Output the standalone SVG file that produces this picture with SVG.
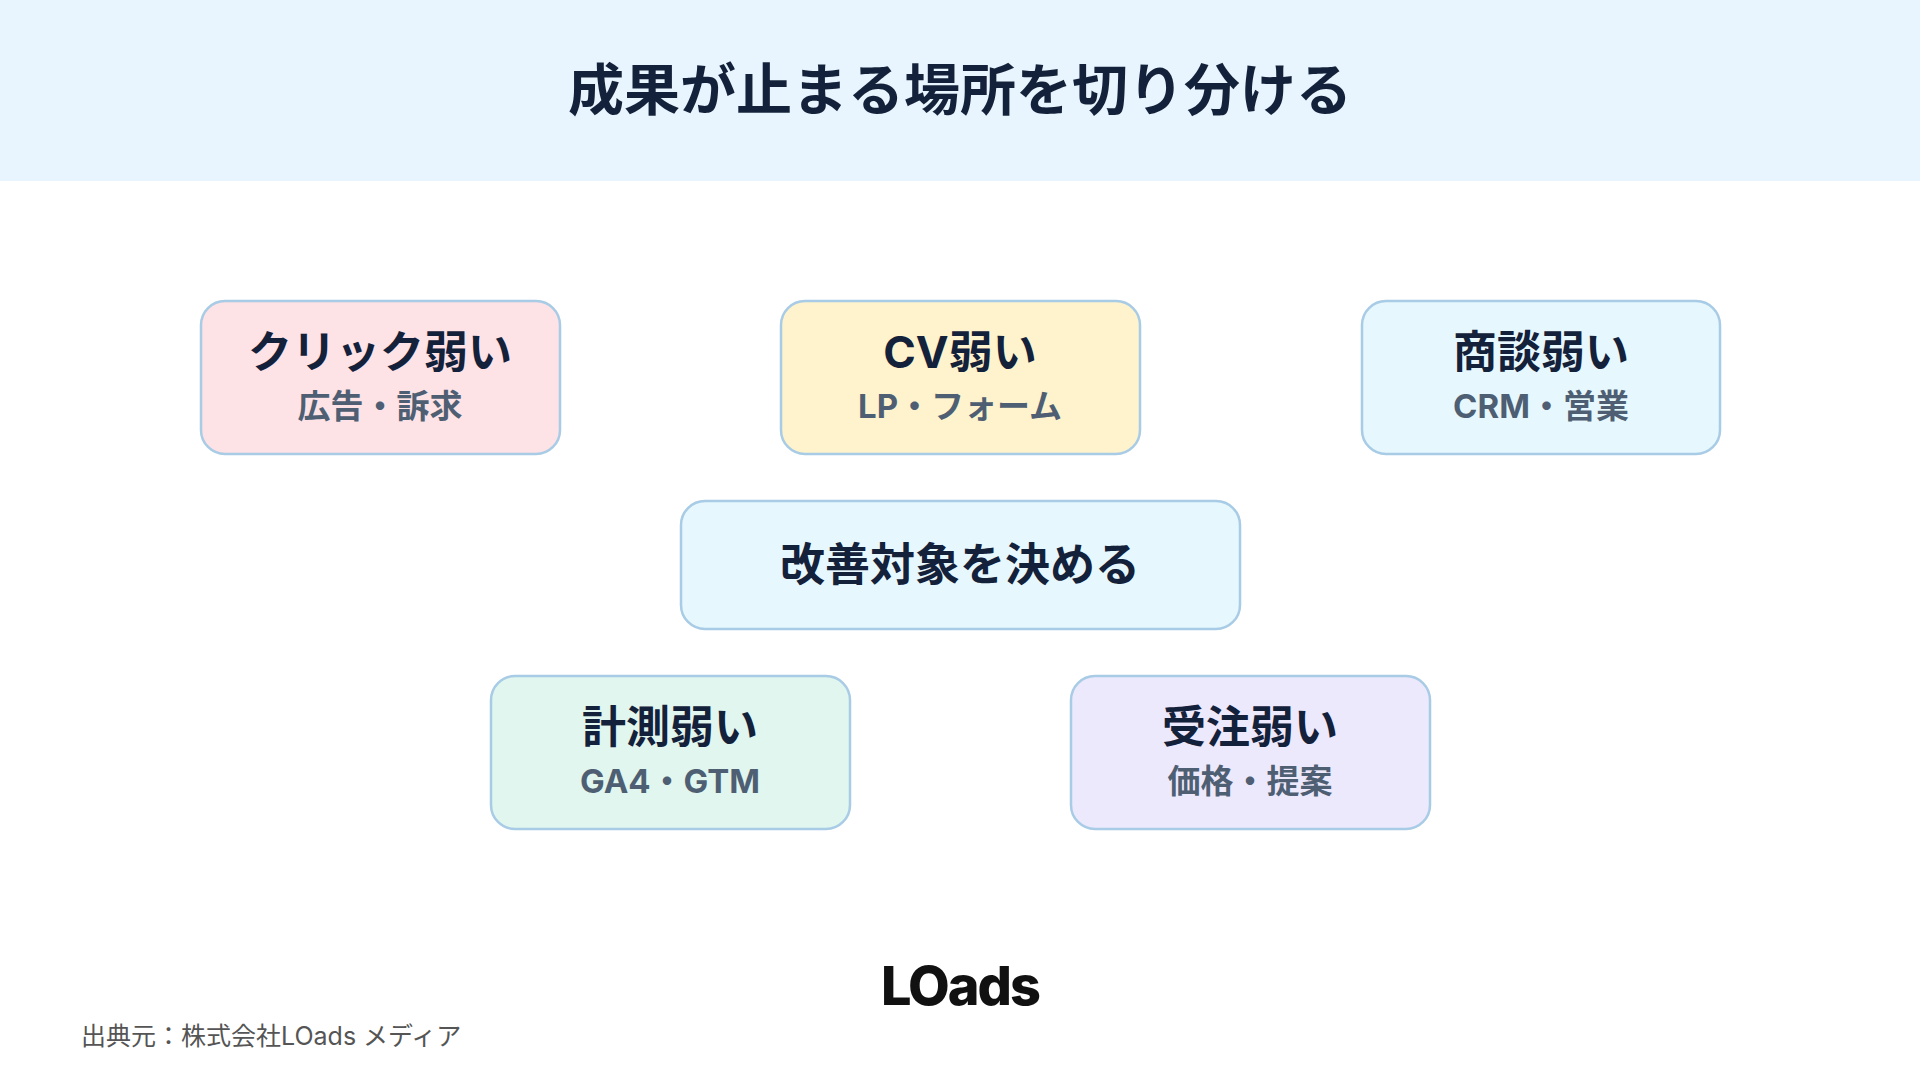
<svg xmlns="http://www.w3.org/2000/svg" width="1920" height="1080" viewBox="0 0 1920 1080">
<style>
.t{font-family:Inter,"Noto Sans CJK JP",sans-serif;font-weight:700;fill:#14213a;text-anchor:middle}
.s{font-family:Inter,"Noto Sans CJK JP",sans-serif;font-weight:700;fill:#4f5f73;text-anchor:middle;font-size:33px}
.box{stroke:#a8cbe6;stroke-width:2.5}
</style>
<rect width="1920" height="1080" fill="#ffffff"/>
<rect width="1920" height="181" fill="#e8f5fe"/>
<text class="t" x="960" y="110" font-size="56">成果が止まる場所を切り分ける</text>
<g id="connectors"></g>
<g id="n1"><rect class="box" x="201" y="301" width="359" height="153" rx="24" fill="#fde2e6"/><text class="t" x="380" y="368" font-size="44">クリック弱い</text><text class="s" x="380" y="418">広告・訴求</text></g>
<g id="n2"><rect class="box" x="781" y="301" width="359" height="153" rx="24" fill="#fef3cc"/><text class="t" x="960" y="368" font-size="44">CV弱い</text><text class="s" x="960" y="418">LP・フォーム</text></g>
<g id="n3"><rect class="box" x="1362" y="301" width="358" height="153" rx="24" fill="#e6f8fd"/><text class="t" x="1541" y="368" font-size="44">商談弱い</text><text class="s" x="1541" y="418">CRM・営業</text></g>
<g id="n4"><rect class="box" x="681" y="501" width="559" height="128" rx="24" fill="#e6f8fd"/><text class="t" x="960" y="581" font-size="45">改善対象を決める</text></g>
<g id="n5"><rect class="box" x="491" y="676" width="359" height="153" rx="24" fill="#e0f6ee"/><text class="t" x="670" y="743" font-size="44">計測弱い</text><text class="s" x="670" y="793">GA4・GTM</text></g>
<g id="n6"><rect class="box" x="1071" y="676" width="359" height="153" rx="24" fill="#ede9fd"/><text class="t" x="1250" y="743" font-size="44">受注弱い</text><text class="s" x="1250" y="793">価格・提案</text></g>
<text x="960" y="1005" font-family="Inter,'Noto Sans',sans-serif" font-weight="800" font-size="54" fill="#111" text-anchor="middle" letter-spacing="-2">LOads</text>
<text x="81" y="1045" font-family="Inter,'Noto Sans CJK JP',sans-serif" font-size="25" fill="#555">出典元：株式会社LOads メディア</text>
</svg>
